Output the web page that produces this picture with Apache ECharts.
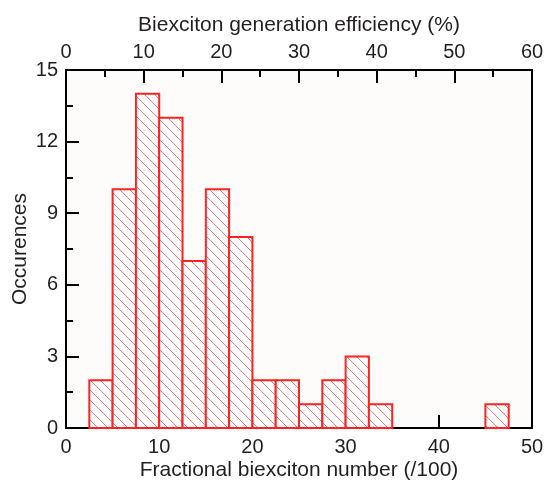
<!DOCTYPE html>
<html>
<head>
<meta charset="utf-8">
<script src="https://cdn.jsdelivr.net/npm/echarts@6/dist/echarts.min.js"></script>
<style>
html,body{margin:0;padding:0;background:#fff;}
#chart{width:545px;height:485px;}
</style>
</head>
<body>
<div id="chart"></div>
<script>
// Histogram bins (fractional biexciton number, /100)
const binStarts = [2.5, 5, 7.5, 10, 12.5, 15, 17.5, 20, 22.5, 25, 27.5, 30, 32.5, 45];
const binWidth = 2.5;
const counts = [2, 10, 14, 13, 7, 10, 8, 2, 2, 1, 2, 3, 1, 1];

const bottomTitle = 'Fractional biexciton number (/100)';
const topTitle = 'Biexciton generation efficiency (%)';
const yTitle = 'Occurences';

// hatch pattern
const s = 10;
const pc = document.createElement('canvas');
pc.width = s; pc.height = s;
const g = pc.getContext('2d');
g.fillStyle = '#ffffff';
g.fillRect(0, 0, s, s);
g.strokeStyle = '#ff7575';
g.lineWidth = 1;
for (let k = -1; k <= 1; k++) {
  g.beginPath();
  g.moveTo(-2, -2 + k * s);
  g.lineTo(s + 2, s + 2 + k * s);
  g.stroke();
}

const data = binStarts.map((b, i) => [b, b + binWidth, counts[i]]);

const font = 'Liberation Sans';
const txt = '#231f20';

const chart = echarts.init(document.getElementById('chart'), null, {renderer: 'canvas'});
chart.setOption({
  animation: false,
  backgroundColor: '#ffffff',
  grid: {left: 66, right: 13, top: 70, bottom: 57, containLabel: false, outerBoundsMode: 'none',
         show: true, backgroundColor: '#fdfcfb', borderWidth: 0},
  xAxis: [
    {
      type: 'value', position: 'bottom', min: 0, max: 50, interval: 10,
      name: bottomTitle, nameLocation: 'middle', nameGap: 32, nameMoveOverlap: false,
      nameTextStyle: {fontFamily: font, fontSize: 21, color: txt},
      axisLine: {show: true, onZero: false, lineStyle: {color: '#000', width: 2}},
      axisTick: {show: true, inside: true, length: 13, lineStyle: {color: '#000', width: 2}},
      minorTick: {show: true, splitNumber: 2, length: 7, lineStyle: {color: '#000', width: 2}},
      axisLabel: {fontFamily: font, fontSize: 20, color: txt, margin: 9},
      splitLine: {show: false}
    },
    {
      type: 'value', position: 'top', min: 0, max: 60, interval: 10,
      name: topTitle, nameLocation: 'middle', nameGap: 34, nameMoveOverlap: false,
      nameTextStyle: {fontFamily: font, fontSize: 21, color: txt},
      axisLine: {show: true, onZero: false, lineStyle: {color: '#000', width: 2}},
      axisTick: {show: true, inside: true, length: 13, lineStyle: {color: '#000', width: 2}},
      minorTick: {show: true, splitNumber: 2, length: 7, lineStyle: {color: '#000', width: 2}},
      axisLabel: {fontFamily: font, fontSize: 20, color: txt, margin: 8},
      splitLine: {show: false}
    }
  ],
  yAxis: [
    {
      type: 'value', position: 'left', min: 0, max: 15, interval: 3,
      name: yTitle, nameLocation: 'middle', nameGap: 35, nameRotate: 90, nameMoveOverlap: false,
      nameTextStyle: {fontFamily: font, fontSize: 21, color: txt},
      axisLine: {show: true, onZero: false, lineStyle: {color: '#000', width: 2}},
      axisTick: {show: true, inside: true, length: 13, lineStyle: {color: '#000', width: 2}},
      minorTick: {show: true, splitNumber: 2, length: 7, lineStyle: {color: '#000', width: 2}},
      axisLabel: {fontFamily: font, fontSize: 20, color: txt, margin: 8},
      splitLine: {show: false}
    },
    {
      type: 'value', position: 'right', min: 0, max: 15, interval: 3,
      axisLine: {show: true, onZero: false, lineStyle: {color: '#000', width: 2}},
      axisTick: {show: false},
      axisLabel: {show: false},
      splitLine: {show: false}
    }
  ],
  series: [{
    type: 'custom',
    xAxisIndex: 0,
    yAxisIndex: 0,
    data: data,
    renderItem: function (params, api) {
      const p0 = api.coord([api.value(0), api.value(2)]);
      const p1 = api.coord([api.value(1), 0]);
      return {
        type: 'rect',
        shape: {x: p0[0], y: p0[1], width: p1[0] - p0[0], height: p1[1] - p0[1]},
        style: {fill: {image: pc, repeat: 'repeat'}, stroke: '#ff2222', lineWidth: 2}
      };
    }
  }]
});
</script>
</body>
</html>
